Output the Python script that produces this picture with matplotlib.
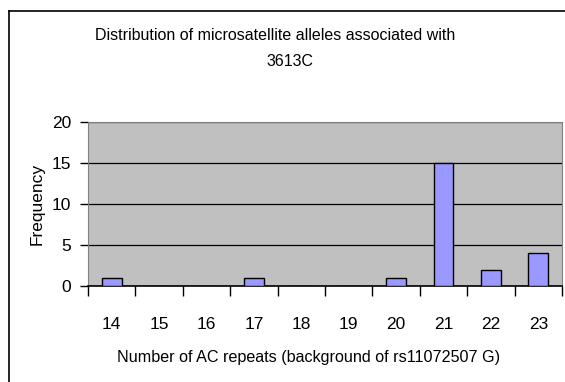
import matplotlib
matplotlib.use("Agg")
import matplotlib.pyplot as plt
from matplotlib.lines import Line2D
import numpy as np

plt.rcParams['font.family'] = ['Liberation Sans', 'DejaVu Sans']

repeats = ['14', '15', '16', '17', '18', '19', '20', '21', '22', '23']
frequency = [1, 0, 0, 1, 0, 0, 1, 15, 2, 4]

W, H = 565, 382
fig = plt.figure(figsize=(W / 100, H / 100), dpi=100)
fig.patch.set_facecolor('white')

# chart frame (left and top edges)
fig.add_artist(Line2D([8.5 / W, 8.5 / W], [0, 1 - 10.5 / H], color='black', lw=1.2))
fig.add_artist(Line2D([8.5 / W, 1], [1 - 10.5 / H, 1 - 10.5 / H], color='black', lw=1.2))

ax = fig.add_axes([88 / W, 1 - 286 / H, (562 - 88) / W, (286 - 122) / H])
ax.set_facecolor('#C0C0C0')

x = np.arange(len(repeats))
ax.bar(x, frequency, width=0.42, color='#9999FF', edgecolor='black', linewidth=1, zorder=3)

ax.set_xlim(-0.5, len(repeats) - 0.5)
ax.set_ylim(0, 20)
ax.set_yticks([0, 5, 10, 15, 20])
ax.yaxis.grid(True, color='black', linewidth=0.9, zorder=1)
ax.set_axisbelow(True)

# category labels between boundary ticks
ax.set_xticks(np.arange(len(repeats) + 1) - 0.5)
ax.set_xticklabels([])
ax.set_xticks(x, minor=True)
ax.set_xticklabels(repeats, minor=True)
ax.tick_params(axis='x', which='major', direction='out', length=7, width=1, color='black')
ax.tick_params(axis='x', which='minor', length=0, pad=22, labelsize=12.5)
ax.tick_params(axis='y', direction='out', length=6, width=1, color='black', labelsize=12.5, pad=6)

for side in ['left', 'right', 'top']:
    ax.spines[side].set_color('#808080')
ax.spines['bottom'].set_color('black')
ax.spines['bottom'].set_linewidth(1.2)

ax.set_ylabel('Frequency', fontsize=12.5, labelpad=5)
ax.set_xlabel('Number of AC repeats (background of rs11072507 G)', fontsize=11.6)
ax.xaxis.set_label_coords((309 - 88) / 474, -0.39)

fig.text(275 / W, 1 - 35 / H, 'Distribution of microsatellite alleles associated with',
         ha='center', va='center', fontsize=11.5)
fig.text(290 / W, 1 - 61 / H, '3613C', ha='center', va='center', fontsize=11.5)

fig.savefig('out.png', dpi=100)
